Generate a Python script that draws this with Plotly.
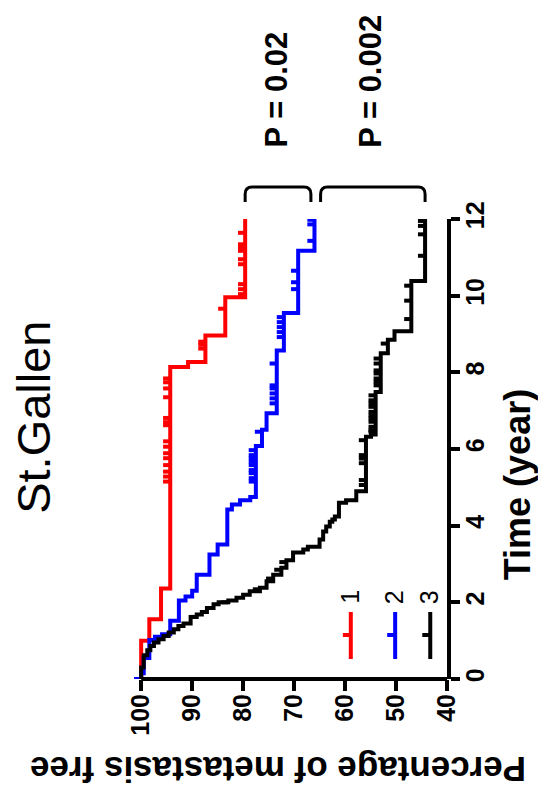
import numpy as np
import plotly.graph_objects as go

# ---- data: Kaplan-Meier estimates per St.Gallen risk group ----
group_names = ["1", "2", "3"]
group_colors = ["#ff0000", "#0000ff", "#000000"]

red_event_times = [1.00, 1.56, 2.36, 8.14, 8.27, 8.96, 9.96]
red_event_surv = [98.4, 96.1, 94.3, 90.8, 87.4, 83.5, 79.6]
red_censor_times = [5.15, 5.28, 5.41, 5.58, 5.76, 5.89, 6.06, 6.20, 6.62, 6.70,
                    6.81, 7.35, 7.58, 7.74, 7.84, 8.62, 8.72, 8.80, 9.66, 10.04,
                    10.17, 10.30, 10.82, 10.95, 11.17, 11.26, 11.34, 11.64]

blue_event_times = [0.15, 0.55, 1.02, 1.10, 1.17, 1.52, 2.05, 2.15, 2.30, 2.72,
                    3.25, 3.51, 4.42, 4.55, 4.66, 4.75, 6.08, 6.50, 6.93, 8.57,
                    9.55, 11.17]
blue_event_surv = [99.5, 98.4, 97.3, 95.9, 94.3, 92.6, 91.3, 90.0, 89.1, 86.6,
                   85.0, 83.1, 82.2, 80.6, 78.6, 77.5, 76.3, 75.4, 73.4, 72.0,
                   69.2, 66.0]
blue_censor_times = [0.0, 5.15, 5.24, 5.37, 5.45, 5.58, 5.67, 5.76, 5.84, 5.97,
                     6.45, 7.19, 7.32, 7.45, 7.58, 7.66, 8.23, 8.92, 9.05, 9.18,
                     9.31, 9.44, 10.17, 10.35, 10.65, 11.43, 11.86, 11.98]

black_event_times = [0.30, 0.62, 0.75, 0.86, 0.95, 1.04, 1.12, 1.21, 1.30, 1.38,
                     1.45, 1.62, 1.68, 1.75, 1.85, 1.95, 2.00, 2.05, 2.12, 2.20,
                     2.29, 2.38, 2.55, 2.72, 2.90, 3.10, 3.30, 3.38, 3.45, 3.64,
                     3.85, 3.98, 4.10, 4.16, 4.24, 4.60, 4.66, 4.90, 6.32, 6.38,
                     7.49, 8.50, 8.85, 9.07, 10.38]
black_event_surv = [99.5, 98.8, 98.2, 97.5, 96.6, 95.6, 94.6, 93.6, 92.7, 91.7,
                    90.3, 89.1, 88.1, 87.1, 85.8, 84.8, 82.9, 81.3, 80.0, 78.7,
                    76.7, 75.4, 74.1, 72.5, 71.5, 70.2, 68.2, 67.3, 65.0, 64.3,
                    63.7, 63.0, 62.5, 62.0, 61.2, 59.8, 57.8, 55.9, 54.9, 54.0,
                    53.0, 51.6, 50.3, 47.0, 44.3]
black_censor_times = [1.62, 2.00, 2.34, 2.62, 2.85, 3.05, 5.06, 5.19, 5.63, 5.75,
                      5.84, 6.23, 6.45, 6.49, 6.58, 6.71, 6.80, 6.88, 6.97, 7.10,
                      7.19, 7.27, 7.40, 7.66, 7.75, 7.84, 7.97, 8.05, 8.23, 8.36,
                      8.75, 9.39, 9.87, 10.26, 11.04, 11.60, 11.82, 11.95]

follow_up_end = 12.0

time_ticks = [0, 2, 4, 6, 8, 10, 12]
pct_ticks = [100, 90, 80, 70, 60, 50, 40]

comparison_pairs = [(0, 1), (1, 2)]
comparison_labels = ["P = 0.02", "P = 0.002"]

chart_title = "St.Gallen"
time_title = "Time (year)"
pct_title = "Percentage of metastasis free"

# ---- geometry (the chart is laid out turned a quarter turn) ----
FONT = "Liberation Sans, Arial, sans-serif"
W, H = 538, 796
PLOT_L, PLOT_R, PLOT_T, PLOT_B = 131.5, 447.5, 219.0, 679.0
X_RANGE = [101.8, 40]
Y_RANGE = [0, follow_up_end]
TICK_PCT = 1.4  # censor tick length in percentage units


def fx(px):
    return (px - PLOT_L) / (PLOT_R - PLOT_L)


def fy(py):
    return (PLOT_B - py) / (PLOT_B - PLOT_T)


def xp(p):
    return (X_RANGE[0] - p) / (X_RANGE[0] - X_RANGE[1])


def surv_at(times, surv, t):
    i = np.searchsorted(np.asarray(times), t, side="right")
    return 100.0 if i == 0 else surv[i - 1]


groups = [
    (red_event_times, red_event_surv, red_censor_times),
    (blue_event_times, blue_event_surv, blue_censor_times),
    (black_event_times, black_event_surv, black_censor_times),
]

fig = go.Figure()
for (times, surv, cens), name, col in zip(groups, group_names, group_colors):
    xs = [100.0] + list(surv) + [surv[-1]]
    ys = [0.0] + list(times) + [follow_up_end]
    fig.add_trace(go.Scatter(x=xs, y=ys, mode="lines", line_shape="vh",
                             line=dict(color=col, width=4), name=name,
                             showlegend=False, hoverinfo="skip"))
    cx, cy = [], []
    for c in cens:
        s = surv_at(times, surv, c)
        cx += [s, s + TICK_PCT, None]
        cy += [c, c, None]
    fig.add_trace(go.Scatter(x=cx, y=cy, mode="lines",
                             line=dict(color=col, width=4),
                             showlegend=False, hoverinfo="skip"))

shapes = []
# percentage axis line, from 100 to 40
shapes.append(dict(type="line", xref="paper", yref="paper",
                   x0=xp(100), x1=1.0, y0=0, y1=0,
                   line=dict(color="black", width=4)))

# comparison brackets between the curves' final values
finals = [g[1][-1] for g in groups]
by0, by1, rad = fy(202), fy(187), 7
spans = []
for k, (a, b) in enumerate(comparison_pairs):
    lo, hi = finals[a], finals[b]
    if k == 0:
        hi += 0.7
    else:
        lo -= 1.2
    spans.append((lo, hi))
for lo, hi in spans:
    x1, x2 = xp(lo), xp(hi)
    rx = rad / (PLOT_R - PLOT_L)
    ry = rad / (PLOT_B - PLOT_T)
    path = (f"M {x1},{by0} L {x1},{by1 - ry} Q {x1},{by1} {x1 + rx},{by1} "
            f"L {x2 - rx},{by1} Q {x2},{by1} {x2},{by1 - ry} L {x2},{by0}")
    shapes.append(dict(type="path", xref="paper", yref="paper", path=path,
                       line=dict(color="black", width=3)))

# legend key: vertical line with a censor tick
legend_x = [351, 395.5, 430.7]
for lx, col in zip(legend_x, group_colors):
    shapes.append(dict(type="line", xref="paper", yref="paper",
                       x0=fx(lx), x1=fx(lx), y0=fy(659), y1=fy(612),
                       line=dict(color=col, width=4)))
    shapes.append(dict(type="line", xref="paper", yref="paper",
                       x0=fx(lx - 8), x1=fx(lx), y0=fy(635), y1=fy(635),
                       line=dict(color=col, width=4)))

annotations = []
for lx, name in zip(legend_x, group_names):
    annotations.append(dict(text=name, xref="paper", yref="paper",
                            x=fx(lx - 1), y=fy(606), xanchor="center",
                            yanchor="bottom", textangle=-90, showarrow=False,
                            font=dict(family=FONT, size=25, color="black")))

for (lo, hi), lab in zip(spans, comparison_labels):
    annotations.append(dict(text=lab, xref="paper", yref="paper",
                            x=(xp(lo) + xp(hi)) / 2 - 0.008, y=fy(150),
                            xanchor="center", yanchor="bottom", textangle=-90,
                            showarrow=False,
                            font=dict(family=FONT, size=31, color="black",
                                      weight="bold")))

annotations.append(dict(text=chart_title, xref="paper", yref="paper",
                        x=fx(32), y=fy(417), xanchor="center", yanchor="middle",
                        textangle=-90, showarrow=False,
                        font=dict(family=FONT, size=47, color="black")))
annotations.append(dict(text=time_title, xref="paper", yref="paper",
                        x=fx(518), y=fy(485), xanchor="center", yanchor="middle",
                        textangle=-90, showarrow=False,
                        font=dict(family=FONT, size=36, color="black",
                                  weight="bold")))
annotations.append(dict(text=pct_title, xref="paper", yref="paper",
                        x=fx(278), y=fy(770), xanchor="center", yanchor="middle",
                        textangle=180, showarrow=False,
                        font=dict(family=FONT, size=35, color="black",
                                  weight="bold")))

tickfont = dict(family=FONT, size=25, color="black", weight="bold")
fig.update_layout(
    width=W, height=H,
    margin=dict(l=PLOT_L, r=W - PLOT_R, t=PLOT_T, b=H - PLOT_B, pad=0),
    paper_bgcolor="white", plot_bgcolor="white",
    showlegend=False,
    xaxis=dict(range=X_RANGE, tickvals=pct_ticks, ticktext=[str(v) for v in pct_ticks],
               ticks="outside", ticklen=11, tickwidth=4, tickcolor="black",
               tickangle=-90, tickfont=tickfont, showline=False,
               ticklabelstandoff=-7,
               showgrid=False, zeroline=False, fixedrange=True),
    yaxis=dict(range=Y_RANGE, side="right", tickvals=time_ticks,
               ticks="outside", ticklen=9, tickwidth=4, tickcolor="black",
               tickangle=-90, tickfont=tickfont, showline=True, linewidth=4,
               linecolor="black", ticklabelstandoff=-6,
               showgrid=False, zeroline=False, fixedrange=True),
    shapes=shapes,
    annotations=annotations,
)

fig.write_html("out.html")
